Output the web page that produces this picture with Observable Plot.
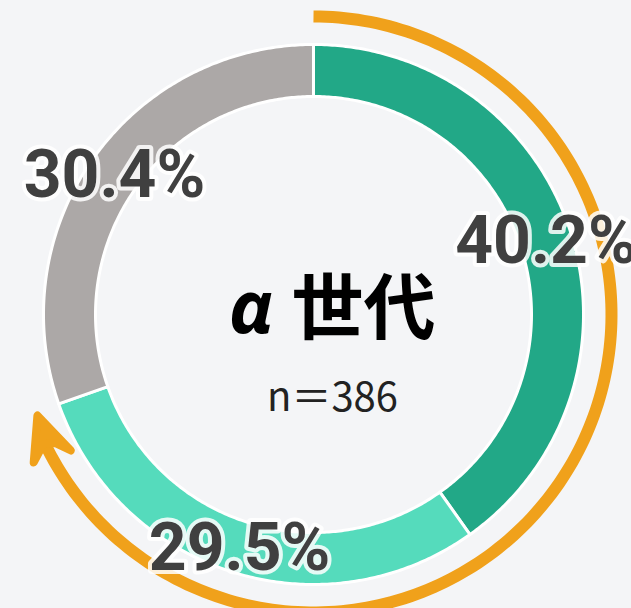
<!DOCTYPE html>
<html><head><meta charset="utf-8">
<script src="https://cdn.jsdelivr.net/npm/d3@7"></script>
<script src="https://cdn.jsdelivr.net/npm/@observablehq/plot@0.6"></script>
<style>
html,body{margin:0;padding:0;background:#f4f5f7;overflow:hidden;}
</style></head><body><div id="chart"></div>
<script>
// ---- data ----
const categories = ["区分A", "区分B", "区分C"];
const shares = [40.2, 29.5, 30.4];
const sampleSize = 386;
const titleGreek = "α";
const titleKanji = "世代";
// ---- styles ----
const sliceColors = ["#22a887", "#55dbbc", "#aca8a7"];
const arrowColor = "#f0a11b";
const labelColor = "#404040";

const W = 631, H = 608, CX = 313, CY = 314;
const R_OUT = 270, R_IN = 218, R_ARROW = 298, LABEL_R = 244;

const total = d3.sum(shares);
let acc = 0;
const slices = categories.map((c, i) => {
  const a0 = acc / total * 2 * Math.PI; acc += shares[i];
  const a1 = acc / total * 2 * Math.PI;
  return {c, v: shares[i], a0, a1};
});
const pt = (a, r) => [r * Math.sin(a), -r * Math.cos(a)];

const ringPts = [];
for (const s of slices) {
  const n = Math.max(2, Math.ceil((s.a1 - s.a0) / 0.01));
  for (let k = 0; k <= n; k++) { const [x, y] = pt(s.a0 + (s.a1 - s.a0) * k / n, R_OUT); ringPts.push({c: s.c, x, y}); }
  for (let k = n; k >= 0; k--) { const [x, y] = pt(s.a0 + (s.a1 - s.a0) * k / n, R_IN); ringPts.push({c: s.c, x, y}); }
}

const labels = slices.map(s => {
  const [x, y] = pt((s.a0 + s.a1) / 2, LABEL_R);
  return {x, y, text: d3.format(".1f")(s.v) + "%"};
});

// arrow covers the first two categories
const aTip = (shares[0] + shares[1]) / total * 2 * Math.PI;
const aEnd = aTip - 34 / R_ARROW;
const arcPts = [];
for (let k = 0; k <= 200; k++) { const [x, y] = pt(aEnd * k / 200, R_ARROW); arcPts.push({x, y}); }
const [tx, ty] = pt(aTip, R_ARROW - 4);
const u = [Math.cos(aTip), Math.sin(aTip)], nv = [Math.sin(aTip), -Math.cos(aTip)];
const local = [[-4, 0], [-47, 19], [-33, 4], [-36, -8], [-48, -20]];
const headPts = local.map(([a, b]) => ({x: tx + a * u[0] + b * nv[0], y: ty + a * u[1] + b * nv[1]}));

const center = [{x: 0, y: 0}];

const chart = Plot.plot({
  width: W, height: H, margin: 0,
  x: {type: "linear", domain: [-CX, W - CX], range: [0, W], axis: null},
  y: {type: "linear", domain: [-CY, H - CY], range: [0, H], axis: null},
  color: {domain: categories, range: sliceColors},
  style: {background: "#f4f5f7", overflow: "visible"},
  marks: [
    Plot.line(ringPts, {x: "x", y: "y", z: "c", fill: "c", stroke: "white", strokeWidth: 3, curve: "linear-closed"}),
    Plot.line(arcPts, {x: "x", y: "y", stroke: arrowColor, strokeWidth: 12, strokeLinecap: "butt"}),
    Plot.line(headPts, {x: "x", y: "y", fill: arrowColor, stroke: arrowColor, strokeWidth: 8, strokeLinejoin: "round", curve: "linear-closed"}),
    Plot.text(labels, {x: "x", y: "y", text: "text", dy: 2, fontSize: 66, fontWeight: 700, fontFamily: "Roboto", fill: "white", stroke: "white", strokeWidth: 8, strokeOpacity: 0.85, fillOpacity: 0.85, ariaLabel: "glow"}),
    Plot.text(labels, {x: "x", y: "y", text: "text", dy: 2, fontSize: 66, fontWeight: 700, fontFamily: "Roboto", fill: labelColor}),
    Plot.text(center, {x: "x", y: "y", text: () => titleGreek, dx: -62, dy: -5, fontSize: 74, fontWeight: 700, fontStyle: "italic", fontFamily: "Noto Sans", fill: "#000"}),
    Plot.text(center, {x: "x", y: "y", text: () => titleKanji, dx: 50, dy: -5, fontSize: 72, fontWeight: 700, fontFamily: "Noto Sans CJK JP", fill: "#000"}),
    Plot.text(center, {x: "x", y: "y", text: () => "n＝" + sampleSize, dx: 19, dy: 84, fontSize: 40, fontWeight: 400, fontFamily: "Noto Sans CJK JP", fill: "#222", ariaLabel: "sample"})
  ]
});
const svg = d3.select(chart);
const defs = svg.insert("defs", ":first-child");
defs.append("filter").attr("id", "soft-glow").attr("filterUnits", "userSpaceOnUse")
  .attr("x", 0).attr("y", 0).attr("width", W).attr("height", H)
  .append("feGaussianBlur").attr("stdDeviation", 4);
svg.selectAll('g[aria-label="glow"]').attr("filter", "url(#soft-glow)");
svg.selectAll('g[aria-label="sample"]').style("letter-spacing", "2px");
document.getElementById("chart").appendChild(chart);
</script></body></html>
